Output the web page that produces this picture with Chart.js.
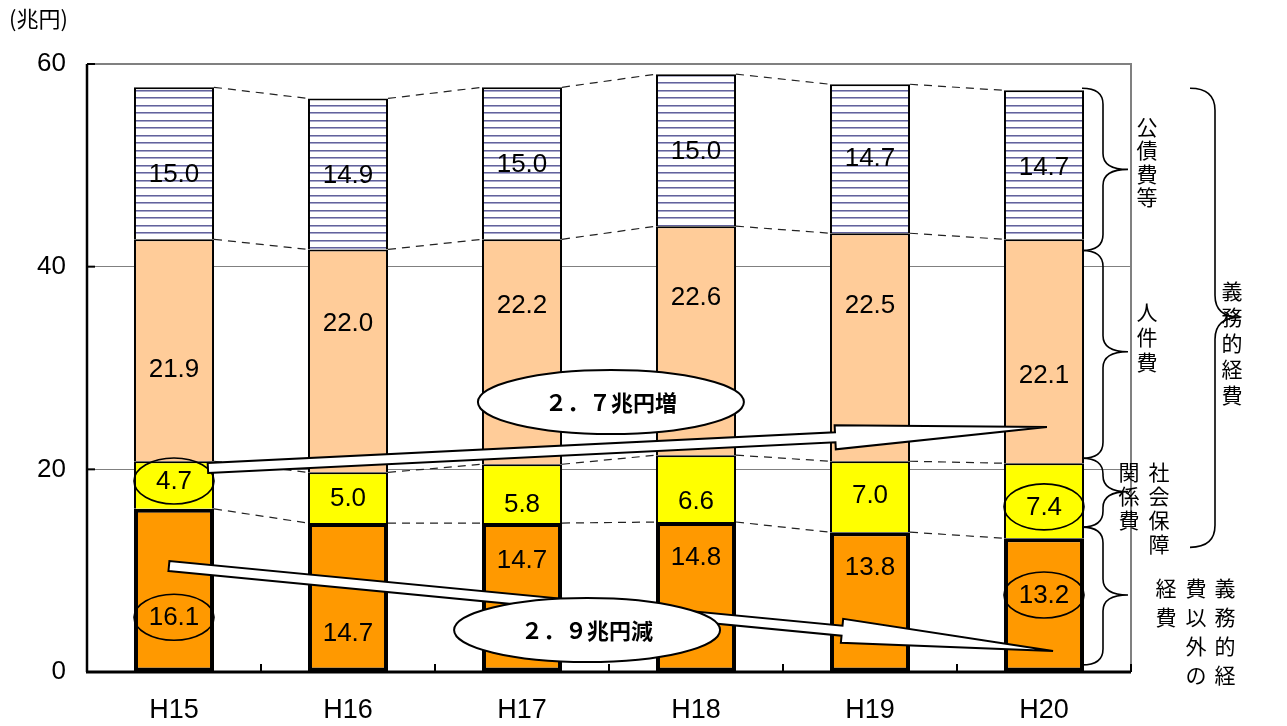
<!DOCTYPE html>
<html><head><meta charset="utf-8">
<script src="https://cdn.jsdelivr.net/npm/chart.js@4"></script>
<style>html,body{margin:0;padding:0;background:#fff;} canvas{display:block}</style>
</head><body>
<canvas id="c" width="1287" height="726"></canvas>
<script>
// ---- data ----
const categories = ['H15','H16','H17','H18','H19','H20'];
const otherExp  = [16.1, 14.7, 14.7, 14.8, 13.8, 13.2]; // 義務的経費以外の経費
const socialSec = [4.7, 5.0, 5.8, 6.6, 7.0, 7.4];       // 社会保障関係費
const personnel = [21.9, 22.0, 22.2, 22.6, 22.5, 22.1]; // 人件費
const debtCost  = [15.0, 14.9, 15.0, 15.0, 14.7, 14.7]; // 公債費等
const yTicks = [0, 20, 40, 60];
const unitLabel = '(兆円)';
const increaseLabel = '２．７兆円増';
const decreaseLabel = '２．９兆円減';

// label anchor heights (value units)
const otherLabelY  = [5.4, 3.85, 11.05, 11.35, 10.36, 7.6];
const socialLabelY = [18.85, 17.2, 16.6, 16.9, 17.5, 16.3];
const personLabelY = [29.9, 34.5, 36.2, 37.0, 36.2, 29.3];
const debtLabelY   = [49.2, 49.1, 50.1, 51.4, 50.7, 49.9];
const circled = [[0,0],[1,0],[1,5],[0,5]]; // [series, category]

// arrows: tail/tip in (category index, value)
const arrowUp   = {tail:[0.195, 20.13], tip:[5.017, 24.18], label:[2.511, 26.64], text: increaseLabel};
const arrowDown = {tail:[-0.029, 10.46], tip:[5.052, 2.07], label:[2.374, 4.14], text: decreaseLabel};

// braces (value ranges): [top, tip, bottom]
const smallBraces = [[57.6, 49.6, 41.6],[41.6, 31.6, 21.1],[21.1, 17.8, 14.3],[14.3, 7.6, 0.7]];
const bigBrace = [57.6, 35.0, 12.3];

// ---- stripe pattern ----
function stripePattern(){
  const p = document.createElement('canvas');
  p.width = 8; p.height = 15;
  const g = p.getContext('2d');
  g.fillStyle = '#ffffff'; g.fillRect(0,0,8,15);
  g.fillStyle = '#62629c'; g.fillRect(0,0,8,1); g.fillRect(0,7,8,1);
  g.fillStyle = '#a8a8cc'; g.fillRect(0,1,8,1); g.fillRect(0,8,8,1);
  return document.getElementById('c').getContext('2d').createPattern(p,'repeat');
}

const seriesVals = [otherExp, socialSec, personnel, debtCost];
const seriesLabY = [otherLabelY, socialLabelY, personLabelY, debtLabelY];

function arrowPath(ctx, x0,y0,x1,y1, sw, hw, hl){
  const dx=x1-x0, dy=y1-y0, L=Math.hypot(dx,dy);
  const ux=dx/L, uy=dy/L, nx=-uy, ny=ux;
  const bx=x1-ux*hl, by=y1-uy*hl;
  ctx.beginPath();
  ctx.moveTo(x0+nx*sw, y0+ny*sw);
  ctx.lineTo(bx+nx*sw, by+ny*sw);
  ctx.lineTo(bx+nx*hw, by+ny*hw);
  ctx.lineTo(x1, y1);
  ctx.lineTo(bx-nx*hw, by-ny*hw);
  ctx.lineTo(bx-nx*sw, by-ny*sw);
  ctx.lineTo(x0-nx*sw, y0-ny*sw);
  ctx.closePath();
  ctx.fillStyle='#fff'; ctx.fill();
  ctx.strokeStyle='#000'; ctx.lineWidth=2; ctx.lineJoin='miter'; ctx.stroke();
}
function brace(ctx, x0, xm, x1, yt, yc, yb, r){
  ctx.beginPath();
  ctx.moveTo(x0, yt);
  ctx.quadraticCurveTo(xm, yt, xm, yt+r);
  ctx.lineTo(xm, yc-r);
  ctx.quadraticCurveTo(xm, yc, x1, yc);
  ctx.quadraticCurveTo(xm, yc, xm, yc+r);
  ctx.lineTo(xm, yb-r);
  ctx.quadraticCurveTo(xm, yb, x0, yb);
  ctx.strokeStyle='#000'; ctx.lineWidth=1.6; ctx.stroke();
}
function vtext(ctx, str, x, y, step){
  for (let i=0;i<str.length;i++) ctx.fillText(str[i], x, y+i*step);
}

const annot = {
  id:'annot',
  afterDatasetsDraw(chart){
    const ctx = chart.ctx, xs = chart.scales.x, ys = chart.scales.y, a = chart.chartArea;
    const metas = [0,1,2,3].map(i=>chart.getDatasetMeta(i));
    ctx.save();
    // plot frame
    ctx.strokeStyle='#808080'; ctx.lineWidth=2;
    ctx.beginPath(); ctx.moveTo(a.left, a.top); ctx.lineTo(a.right, a.top); ctx.lineTo(a.right, a.bottom); ctx.stroke();
    ctx.strokeStyle='#000'; ctx.lineWidth=2.5;
    ctx.beginPath(); ctx.moveTo(a.left, a.top); ctx.lineTo(a.left, a.bottom); ctx.stroke();
    ctx.lineWidth=3;
    ctx.beginPath(); ctx.moveTo(a.left-1, a.bottom); ctx.lineTo(a.right, a.bottom); ctx.stroke();
    // inner ticks
    ctx.lineWidth=2;
    for (let i=0;i<=categories.length;i++){
      const x = xs.getPixelForValue(i-0.5);
      ctx.beginPath(); ctx.moveTo(x, a.bottom); ctx.lineTo(x, a.bottom-8); ctx.stroke();
    }
    yTicks.forEach(v=>{ const y=ys.getPixelForValue(v); ctx.beginPath(); ctx.moveTo(a.left, y); ctx.lineTo(a.left+8, y); ctx.stroke(); });

    // dashed series lines
    ctx.strokeStyle='#222'; ctx.lineWidth=1.2; ctx.setLineDash([8,6]);
    const cum = categories.map(()=>0);
    seriesVals.forEach((vals,k)=>{
      vals.forEach((v,i)=>cum[i]+=v);
      for (let i=0;i<categories.length-1;i++){
        const b0 = metas[k].data[i], b1 = metas[k].data[i+1];
        ctx.beginPath();
        ctx.moveTo(b0.x + b0.width/2, ys.getPixelForValue(cum[i]));
        ctx.lineTo(b1.x - b1.width/2, ys.getPixelForValue(cum[i+1]));
        ctx.stroke();
      }
    });
    ctx.setLineDash([]);

    // value labels
    ctx.fillStyle='#000'; ctx.font='26px "Liberation Sans", Arial, sans-serif';
    ctx.textAlign='center'; ctx.textBaseline='middle';
    seriesVals.forEach((vals,k)=>{
      vals.forEach((v,i)=>{
        ctx.fillText(v.toFixed(1), metas[k].data[i].x, ys.getPixelForValue(seriesLabY[k][i]) + 1);
      });
    });
    // circled labels
    ctx.strokeStyle='#000'; ctx.lineWidth=1.6;
    circled.forEach(([k,i])=>{
      ctx.beginPath();
      ctx.ellipse(metas[k].data[i].x, ys.getPixelForValue(seriesLabY[k][i]), 40, 23, 0, 0, Math.PI*2);
      ctx.stroke();
    });

    // arrows
    [arrowUp, arrowDown].forEach(ar=>{
      arrowPath(ctx, xs.getPixelForValue(ar.tail[0]), ys.getPixelForValue(ar.tail[1]),
                xs.getPixelForValue(ar.tip[0]), ys.getPixelForValue(ar.tip[1]), 5, 12, 212);
    });
    [arrowUp, arrowDown].forEach(ar=>{
      const cx = xs.getPixelForValue(ar.label[0]), cy = ys.getPixelForValue(ar.label[1]);
      ctx.beginPath(); ctx.ellipse(cx, cy, 133, 32, 0, 0, Math.PI*2);
      ctx.fillStyle='#fff'; ctx.fill(); ctx.strokeStyle='#000'; ctx.lineWidth=2; ctx.stroke();
      ctx.fillStyle='#000'; ctx.font='bold 22px "Noto Sans CJK JP", sans-serif';
      ctx.fillText(ar.text, cx, cy+1);
    });

    // braces
    const R = a.right;
    smallBraces.forEach(b=>brace(ctx, R-49, R-28, R-3, ys.getPixelForValue(b[0]), ys.getPixelForValue(b[1]), ys.getPixelForValue(b[2]), 16));
    brace(ctx, R+59, R+84, R+109, ys.getPixelForValue(bigBrace[0]), ys.getPixelForValue(bigBrace[1]), ys.getPixelForValue(bigBrace[2]), 22);

    // vertical texts
    ctx.fillStyle='#000'; ctx.font='21px "Noto Sans CJK JP", sans-serif';
    ctx.textAlign='center'; ctx.textBaseline='middle';
    vtext(ctx, '公債費等', R+16, 127, 23.5);
    vtext(ctx, '人件費', R+16, 312, 25);
    vtext(ctx, '社会保障', R+28, 472, 24);
    vtext(ctx, '関係費', R-2, 472, 24);
    vtext(ctx, '義務的経', R+94, 588, 29);
    vtext(ctx, '費以外の', R+65, 588, 29);
    vtext(ctx, '経費', R+35, 588, 29);
    vtext(ctx, '義務的経費', R+101, 291, 26);

    // unit
    ctx.textAlign='left'; ctx.font='22px "Noto Sans CJK JP", sans-serif';
    ctx.fillText(unitLabel, 9, 19);
    ctx.restore();
  }
};

const common = {barPercentage:0.46, categoryPercentage:1.0, borderColor:'#000'};
new Chart(document.getElementById('c'), {
  type:'bar',
  data:{
    labels: categories,
    datasets:[
      Object.assign({label:'義務的経費以外の経費', data: otherExp, backgroundColor:'#FF9900', borderWidth:4, borderSkipped:false}, common),
      Object.assign({label:'社会保障関係費', data: socialSec, backgroundColor:'#FFFF00', borderWidth:2, borderSkipped:'start'}, common),
      Object.assign({label:'人件費', data: personnel, backgroundColor:'#FFCC99', borderWidth:2, borderSkipped:'start'}, common),
      Object.assign({label:'公債費等', data: debtCost, backgroundColor: stripePattern(), borderWidth:2, borderSkipped:'start'}, common)
    ]
  },
  options:{
    responsive:false, animation:false, devicePixelRatio:1,
    layout:{padding:{left:0, right:156, top:64, bottom:0}},
    plugins:{legend:{display:false}, tooltip:{enabled:false}},
    scales:{
      x:{stacked:true, grid:{display:false, drawTicks:false}, border:{display:false},
         ticks:{font:{family:'"Liberation Sans", Arial, sans-serif', size:27}, color:'#000', padding:22},
         afterFit(s){ s.height = 54; }},
      y:{stacked:true, min:0, max:60, border:{display:false},
         grid:{drawTicks:false, lineWidth:1, color:c=> (c.tick && (c.tick.value===20||c.tick.value===40)) ? '#808080' : 'rgba(0,0,0,0)'},
         ticks:{stepSize:20, font:{family:'"Liberation Sans", Arial, sans-serif', size:26}, color:'#000', padding:21,
                callback:v=> yTicks.includes(v) ? String(v) : ''},
         afterFit(s){ s.width = 87; }}
    }
  },
  plugins:[annot]
});
</script>
</body></html>
